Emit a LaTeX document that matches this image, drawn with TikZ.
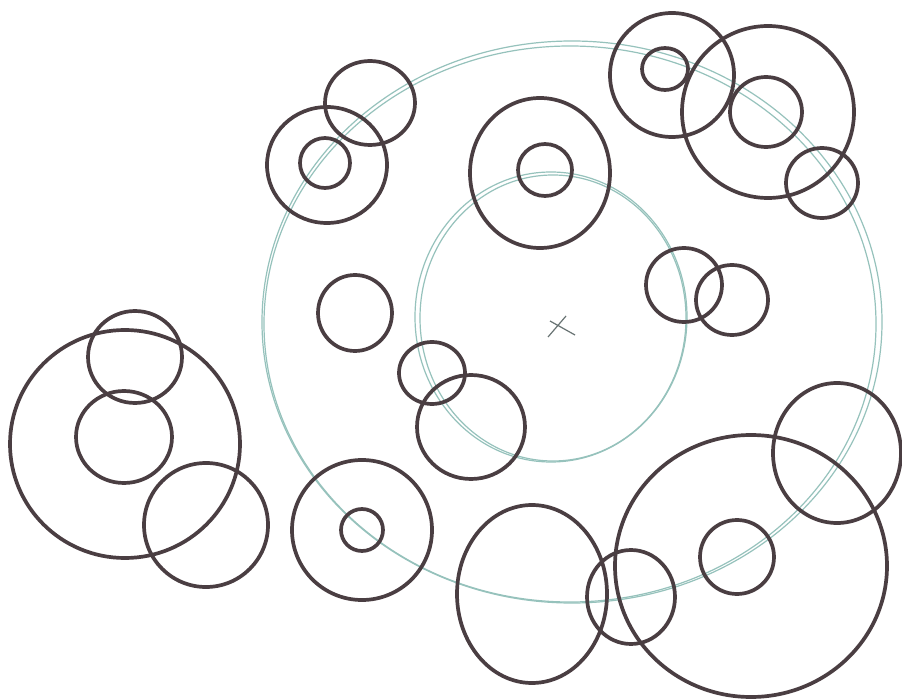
\documentclass[tikz,border=0pt]{standalone}
\begin{document}
\begin{tikzpicture}[x=1pt,y=-1pt,
  ink/.style={draw=inkc,line width=3.7pt},
  pencil/.style={draw=pencilc,line width=1.2pt}]
\definecolor{inkc}{HTML}{4A3E42}
\definecolor{pencilc}{HTML}{96C2BC}
\fill[white] (0,0) rectangle (902,700);
\useasboundingbox (0,0) rectangle (902,700);
% pencil guide circles (doubled strokes)
\draw[pencil] (572,322) ellipse [x radius=310, y radius=281];
\draw[pencil] (570,324) ellipse [x radius=306, y radius=278];
\draw[pencil] (551,317) ellipse [x radius=136, y radius=145];
\draw[pencil] (553,318) ellipse [x radius=133, y radius=143];
% centre mark
\draw[draw=inkc!60!pencilc,line width=1.2pt] (550,321) -- (575,335) (548,337) -- (566,316);
% left group
\draw[ink] (125,444) ellipse [x radius=115, y radius=114];
\draw[ink] (135,357) ellipse [x radius=47, y radius=46];
\draw[ink] (124,437) ellipse [x radius=48, y radius=46];
\draw[ink] (206,525) ellipse [x radius=62, y radius=62];
% top-left group
\draw[ink] (370,103) ellipse [x radius=45, y radius=42];
\draw[ink] (327,165) ellipse [x radius=60, y radius=58];
\draw[ink] (325,163) ellipse [x radius=25, y radius=25];
% top centre
\draw[ink] (540,173) ellipse [x radius=70, y radius=75];
\draw[ink] (545,170) ellipse [x radius=27, y radius=26];
% top right group
\draw[ink] (672,75) ellipse [x radius=62, y radius=62];
\draw[ink] (665,69) ellipse [x radius=23, y radius=21];
\draw[ink] (768,112) ellipse [x radius=86, y radius=86];
\draw[ink] (766,112) ellipse [x radius=36, y radius=35];
\draw[ink] (822,183) ellipse [x radius=36, y radius=35];
% middle
\draw[ink] (355,313) ellipse [x radius=37, y radius=38];
\draw[ink] (432,373) ellipse [x radius=33, y radius=31];
\draw[ink] (471,427) ellipse [x radius=54, y radius=52];
\draw[ink] (684,285) ellipse [x radius=38, y radius=37];
\draw[ink] (732,300) ellipse [x radius=36, y radius=35];
% bottom
\draw[ink] (362,530) ellipse [x radius=70, y radius=70];
\draw[ink] (362,530) ellipse [x radius=21, y radius=21];
\draw[ink] (532,594) ellipse [x radius=75, y radius=89];
\draw[ink] (631,597) ellipse [x radius=44, y radius=47];
\draw[ink] (751,566) ellipse [x radius=136, y radius=131];
\draw[ink] (737,557) ellipse [x radius=37, y radius=37];
\draw[ink] (837,453) ellipse [x radius=64, y radius=70];
\end{tikzpicture}
\end{document}
